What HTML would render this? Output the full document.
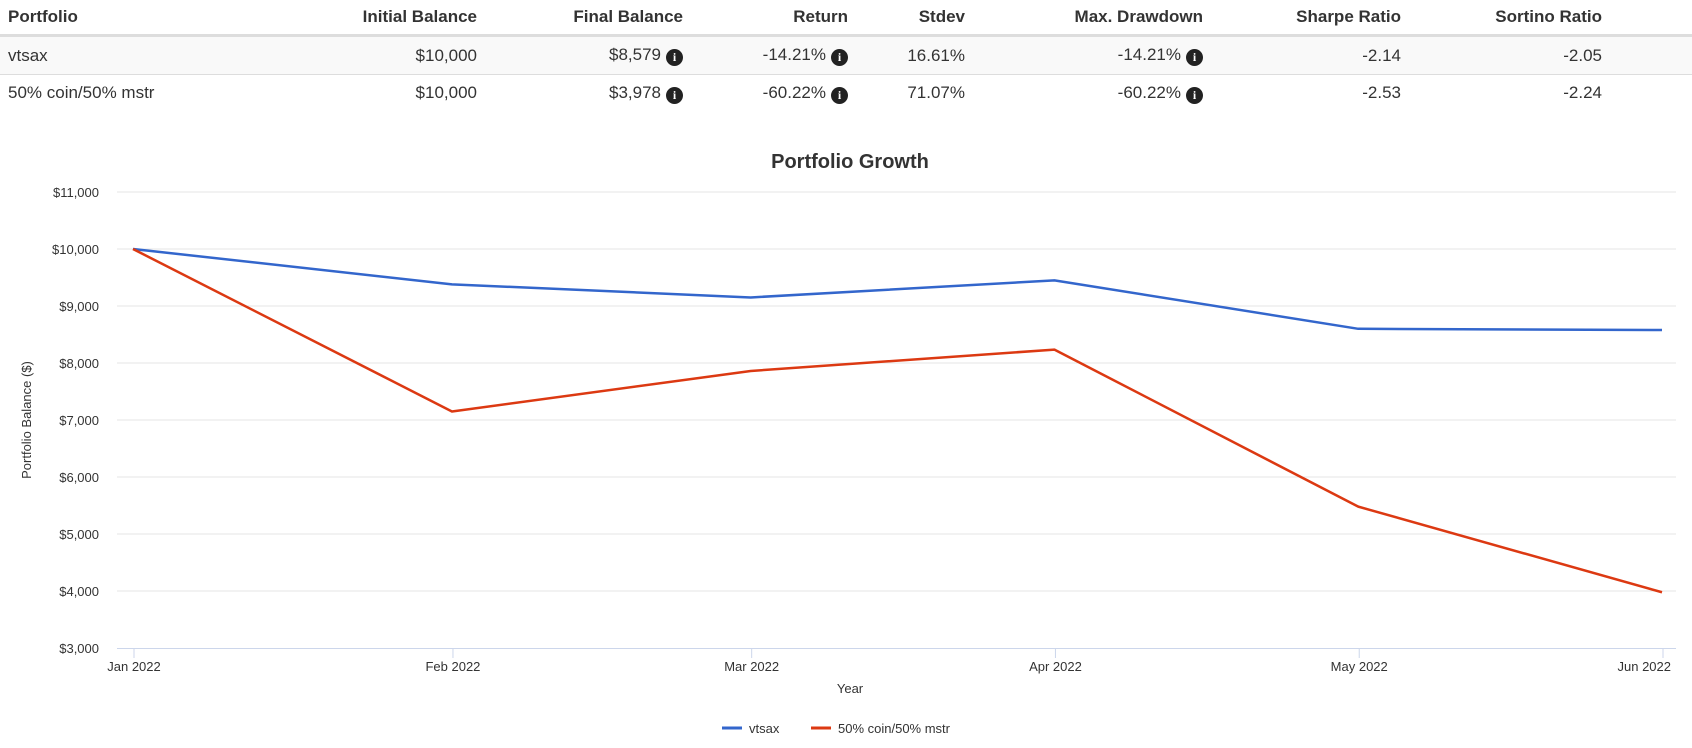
<!DOCTYPE html>
<html><head><meta charset="utf-8"><style>
body{margin:0;width:1692px;height:748px;background:#fff;font-family:"Liberation Sans",sans-serif;color:#333;overflow:hidden;position:relative}
table{position:absolute;left:0;top:0;width:1692px;border-collapse:collapse;font-size:17px;color:#333}
th,td{padding:0;height:36px;text-align:right;white-space:nowrap}
th{font-weight:bold;height:34px;border-bottom:3px solid #ddd}
tr.r1 td{background:#f9f9f9;border-bottom:1px solid #ddd;height:37px}
.l{text-align:left;padding-left:8px}
.ic{display:inline-block;width:17px;height:17px;border-radius:50%;background:#222;color:#fff;font-size:12px;font-weight:bold;line-height:17px;text-align:center;vertical-align:-1px;margin-left:5px;font-family:"Liberation Serif",serif}
</style></head><body>
<table>
<colgroup><col style="width:300px"><col style="width:177px"><col style="width:206px"><col style="width:165px"><col style="width:117px"><col style="width:238px"><col style="width:198px"><col style="width:201px"><col></colgroup>
<tr><th class="l">Portfolio</th><th>Initial Balance</th><th>Final Balance</th><th>Return</th><th>Stdev</th><th>Max. Drawdown</th><th>Sharpe Ratio</th><th>Sortino Ratio</th><th></th></tr>
<tr class="r1"><td class="l">vtsax</td><td>$10,000</td><td>$8,579<span class="ic">i</span></td><td>-14.21%<span class="ic">i</span></td><td>16.61%</td><td>-14.21%<span class="ic">i</span></td><td>-2.14</td><td>-2.05</td><td></td></tr>
<tr><td class="l">50% coin/50% mstr</td><td>$10,000</td><td>$3,978<span class="ic">i</span></td><td>-60.22%<span class="ic">i</span></td><td>71.07%</td><td>-60.22%<span class="ic">i</span></td><td>-2.53</td><td>-2.24</td><td></td></tr>
</table>
<svg id="chart" width="1692" height="748" style="position:absolute;left:0;top:0"></svg>
<script>
const days=[0,31.5,61,91,121,151];
const tickLabels=["Jan 2022","Feb 2022","Mar 2022","Apr 2022","May 2022","Jun 2022"];
const vtsax=[10000,9380,9150,9450,8600,8579];
const coin=[10000,7150,7860,8235,5480,3978];
const yTicks=[3000,4000,5000,6000,7000,8000,9000,10000,11000];
const yTickLabels=["$3,000","$4,000","$5,000","$6,000","$7,000","$8,000","$9,000","$10,000","$11,000"];
const seriesNames=["vtsax","50% coin/50% mstr"];
const NS="http://www.w3.org/2000/svg",svg=document.getElementById('chart');
const X=d=>133+d*(1662-133)/151, Y=v=>648-(v-3000)/1000*57;
function mk(t,a,txt){const e=document.createElementNS(NS,t);for(const k in a)e.setAttribute(k,a[k]);if(txt!=null)e.textContent=txt;svg.appendChild(e);return e;}
let t=mk('text',{x:850,y:168,'text-anchor':'middle','font-size':20,'font-weight':'bold',fill:'#333'},'Portfolio Growth');


yTicks.forEach((v,i)=>{
 if(i>0){const g=mk('line',{x1:117,x2:1676,y1:Y(v),y2:Y(v),stroke:'#e6e6e6'});
 
 }
 const l=mk('text',{x:99,y:Y(v)+5,'text-anchor':'end','font-size':13,fill:'#333'},yTickLabels[i]);
 
 
});
const ax=mk('line',{x1:117,x2:1676,y1:648.5,y2:648.5,stroke:'#ccd6eb'});


days.forEach((d,i)=>{
 const tk=mk('line',{x1:X(d)+1,x2:X(d)+1,y1:648,y2:658,stroke:'#ccd6eb'});
 
 
 const l=mk('text',{x:i==5?X(d)+9:X(d)+1,y:671,'text-anchor':i==5?'end':'middle','font-size':13,fill:'#333'},tickLabels[i]);
 
 
});
const xt=mk('text',{x:850,y:693,'text-anchor':'middle','font-size':13,fill:'#333'},'Year');


const yt=mk('text',{x:0,y:0,transform:'translate(31,420) rotate(-90)','text-anchor':'middle','font-size':13,fill:'#333'},'Portfolio Balance ($)');


function line(vals,color,name){
 const p=mk('polyline',{points:vals.map((v,i)=>X(days[i])+','+Y(v)).join(' '),fill:'none',stroke:color,'stroke-width':2.5,'stroke-linejoin':'round'});
 
 
}
line(vtsax,'#3366cc','series-vtsax');
line(coin,'#dc3912','series-coin-mstr');
const lg=[[722,749,'#3366cc'],[811,838,'#dc3912']];
lg.forEach((g,i)=>{
 const s=mk('line',{x1:g[0],x2:g[0]+20,y1:728,y2:728,stroke:g[2],'stroke-width':3});
 
 
 const l=mk('text',{x:g[1],y:733,'font-size':13,fill:'#333'},seriesNames[i]);
 
 
});
</script>
</body></html>
